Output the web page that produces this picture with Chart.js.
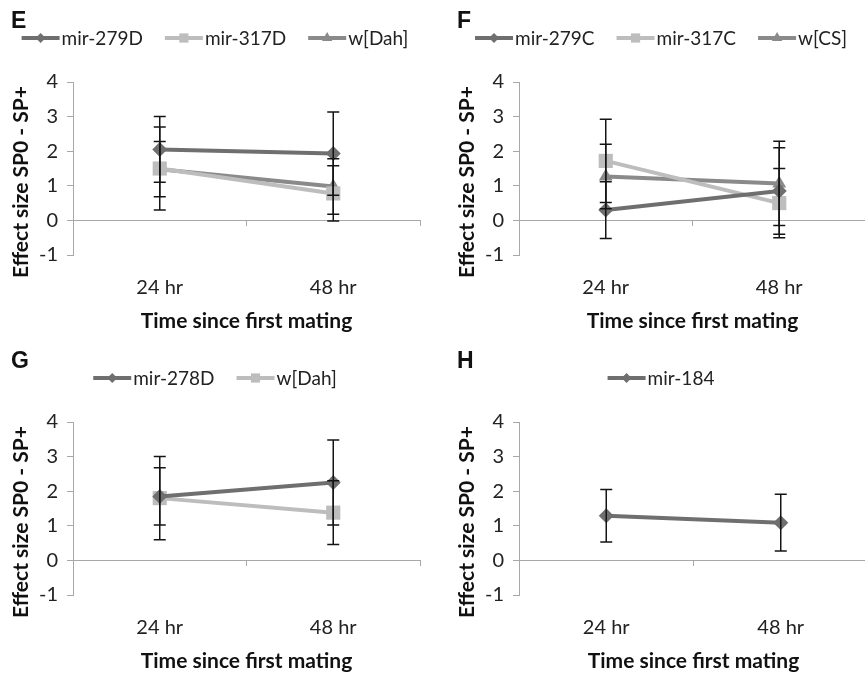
<!DOCTYPE html>
<html>
<head>
<meta charset="utf-8">
<script src="https://cdn.jsdelivr.net/npm/chart.js@4.4.1/dist/chart.umd.min.js"></script>
<style>
  html, body { margin: 0; padding: 0; background: #fff; overflow: hidden; width: 865px; height: 673px; }
  .panel { position: absolute; width: 430px; height: 336px; }
</style>
</head>
<body>
<div class="panel" style="left:0;top:0"><canvas id="chartE" width="430" height="336"></canvas></div>
<div class="panel" style="left:446px;top:0"><canvas id="chartF" width="430" height="336"></canvas></div>
<div class="panel" style="left:0;top:340px"><canvas id="chartG" width="430" height="336"></canvas></div>
<div class="panel" style="left:446px;top:340px"><canvas id="chartH" width="430" height="336"></canvas></div>
<script>
// categories and tick values shared by all four panels
const categories = ['24 hr', '48 hr'];
const yTickValues = [-1, 0, 1, 2, 3, 4];

// panel E
const eMir279D = [2.05, 1.93];
const eMir279DErr = [0.95, 1.2];
const eMir317D = [1.5, 0.78];
const eMir317DErr = [1.2, 0.8];
const eWDah = [1.48, 0.98];
const eWDahErr = [0.8, 0.8];

// panel F
const fMir279C = [0.3, 0.85];
const fMir279CErr = [0.82, 1.25];
const fMir317C = [1.72, 0.5];
const fMir317CErr = [1.2, 1.0];
const fWCS = [1.27, 1.07];
const fWCSErr = [0.93, 1.22];

// panel G
const gMir278D = [1.85, 2.25];
const gMir278DErr = [0.83, 1.23];
const gWDah = [1.8, 1.38];
const gWDahErr = [1.2, 0.92];

// panel H
const hMir184 = [1.29, 1.09];
const hMir184Err = [0.76, 0.82];

const FONT = 'Lato, "Open Sans", sans-serif';
const AXIS = '#a8a8a8';
const Y_TITLE = 'Effect size SP0 - SP+';

const styles = {
  diamond: { color: '#6f6f6f', pointStyle: 'rectRot', radius: 7.5, legendRadius: 5 },
  square: { color: '#bdbdbd', pointStyle: 'rect', radius: 10, legendRadius: 6.5 },
  triangle: { color: '#8a8a8a', pointStyle: 'triangle', radius: 8, legendRadius: 6 }
};

function series(label, data, errors, style) {
  const s = styles[style];
  return {
    label, data, errors,
    borderColor: s.color,
    backgroundColor: s.color,
    borderWidth: 4,
    pointStyle: s.pointStyle,
    pointRadius: s.radius,
    pointBorderWidth: 0,
    legendRadius: s.legendRadius,
    tension: 0
  };
}

const errorBars = {
  id: 'errorBars',
  afterDatasetsDraw(chart) {
    const ctx = chart.ctx;
    const y = chart.scales.y;
    ctx.save();
    ctx.strokeStyle = '#141414';
    ctx.lineWidth = 1.5;
    chart.data.datasets.forEach((ds, i) => {
      const meta = chart.getDatasetMeta(i);
      meta.data.forEach((pt, j) => {
        const top = y.getPixelForValue(ds.data[j] + ds.errors[j]);
        const bot = y.getPixelForValue(ds.data[j] - ds.errors[j]);
        ctx.beginPath();
        ctx.moveTo(pt.x, top); ctx.lineTo(pt.x, bot);
        ctx.moveTo(pt.x - 6, top); ctx.lineTo(pt.x + 6, top);
        ctx.moveTo(pt.x - 6, bot); ctx.lineTo(pt.x + 6, bot);
        ctx.stroke();
      });
    });
    ctx.restore();
  }
};

// panel letter, y title (centred on plot + labels like Excel) and a line-through-marker legend
const panelLegend = {
  id: 'panelLegend',
  afterDraw(chart, args, opts) {
    const ctx = chart.ctx;
    ctx.save();
    ctx.fillStyle = '#111';
    ctx.font = 'bold 23px "Liberation Sans", Arial, sans-serif';
    ctx.textBaseline = 'alphabetic';
    ctx.fillText(opts.letter, 11, 28);

    ctx.save();
    ctx.translate(21, chart.chartArea.bottom - 73);
    ctx.rotate(-Math.PI / 2);
    ctx.font = 'bold 21px ' + FONT;
    ctx.textAlign = 'center';
    ctx.textBaseline = 'middle';
    ctx.fillText(Y_TITLE, 0, 0);
    ctx.restore();

    ctx.font = '19px ' + FONT;
    ctx.textBaseline = 'middle';
    const lineLen = 38, gapText = 2, gapItem = 22, ly = 38;
    const items = chart.data.datasets.map(ds => ({ ds, w: ctx.measureText(ds.label).width }));
    const total = items.reduce((a, it) => a + lineLen + gapText + it.w, 0) + gapItem * (items.length - 1);
    let x = chart.width / 2 - total / 2;
    items.forEach(it => {
      ctx.strokeStyle = it.ds.borderColor;
      ctx.lineWidth = 4;
      ctx.beginPath();
      ctx.moveTo(x, ly); ctx.lineTo(x + lineLen, ly);
      ctx.stroke();
      ctx.fillStyle = it.ds.backgroundColor;
      Chart.helpers.drawPoint(ctx, { pointStyle: it.ds.pointStyle, radius: it.ds.legendRadius, rotation: 0, borderWidth: 0 }, x + lineLen / 2, ly);
      ctx.fillStyle = '#222';
      ctx.fillText(it.ds.label, x + lineLen + gapText, ly + 1);
      x += lineLen + gapText + it.w + gapItem;
    });
    ctx.restore();
  }
};

function makeChart(id, letter, datasets) {
  return new Chart(document.getElementById(id), {
    type: 'line',
    data: { labels: categories, datasets },
    plugins: [errorBars, panelLegend],
    options: {
      responsive: false,
      animation: false,
      events: [],
      layout: { padding: { top: 82, right: 8, left: 0, bottom: 0 } },
      plugins: {
        legend: { display: false },
        tooltip: { enabled: false },
        panelLegend: { letter }
      },
      scales: {
        x: {
          type: 'category',
          offset: true,
          position: 'bottom',
          grid: { display: false, drawTicks: false },
          border: { display: false },
          ticks: { font: { family: FONT, size: 20 }, color: '#222', padding: 21 },
          title: {
            display: true, text: 'Time since first mating', color: '#111',
            font: { family: FONT, size: 21, weight: 'bold' }, padding: { top: 0, bottom: 2 }
          },
          afterFit(s) { s.height = 81; }
        },
        x2: {
          type: 'category',
          position: { y: 0 },
          offset: true,
          grid: { display: true, offset: true, drawOnChartArea: false, drawTicks: true, tickLength: 5, color: AXIS },
          border: { display: true, color: AXIS },
          ticks: { display: false }
        },
        y: {
          min: -1,
          max: 4,
          afterBuildTicks(s) { s.ticks = yTickValues.map(v => ({ value: v })); },
          ticks: { font: { family: FONT, size: 20 }, color: '#222', padding: 9 },
          grid: { display: true, drawOnChartArea: false, drawTicks: true, tickLength: 6, color: AXIS },
          border: { display: true, color: AXIS },
          title: { display: false },
          afterFit(s) { s.width = 73; }
        }
      }
    }
  });
}

makeChart('chartE', 'E', [
  series('mir-279D', eMir279D, eMir279DErr, 'diamond'),
  series('mir-317D', eMir317D, eMir317DErr, 'square'),
  series('w[Dah]', eWDah, eWDahErr, 'triangle')
]);
makeChart('chartF', 'F', [
  series('mir-279C', fMir279C, fMir279CErr, 'diamond'),
  series('mir-317C', fMir317C, fMir317CErr, 'square'),
  series('w[CS]', fWCS, fWCSErr, 'triangle')
]);
makeChart('chartG', 'G', [
  series('mir-278D', gMir278D, gMir278DErr, 'diamond'),
  series('w[Dah]', gWDah, gWDahErr, 'square')
]);
makeChart('chartH', 'H', [
  series('mir-184', hMir184, hMir184Err, 'diamond')
]);
</script>
</body>
</html>
